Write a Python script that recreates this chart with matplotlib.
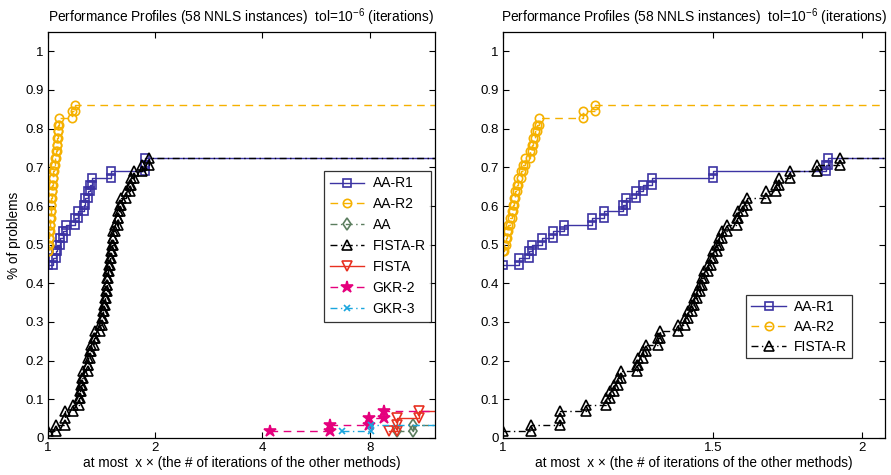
import numpy as np
import matplotlib
matplotlib.use('Agg')
import matplotlib.pyplot as plt
from matplotlib.ticker import FixedLocator, FixedFormatter, NullLocator

plt.rcParams['font.family'] = ['Liberation Sans', 'DejaVu Sans']
plt.rcParams['mathtext.fontset'] = 'custom'
plt.rcParams['mathtext.rm'] = 'Liberation Sans'
plt.rcParams['font.size'] = 9

N_PROBLEMS = 58

# performance ratios (one value per solved problem)
aa_r1 = [1.0] * 26 + [1.032, 1.052, 1.057, 1.078, 1.102, 1.124, 1.188, 1.216,
                      1.261, 1.267, 1.292, 1.311, 1.332, 1.499, 1.866, 1.874]
aa_r2 = [1.0] * 28 + [1.0025, 1.006, 1.007, 1.010, 1.0136, 1.017, 1.019, 1.021,
                      1.023, 1.027, 1.030, 1.035, 1.040, 1.043, 1.053, 1.057,
                      1.060, 1.064, 1.067, 1.071, 1.168, 1.194]
fista_r = [1.0, 1.055, 1.116, 1.116, 1.173, 1.220, 1.229, 1.240, 1.248, 1.256,
           1.295, 1.297, 1.310, 1.318, 1.349, 1.354, 1.402, 1.420, 1.430, 1.440,
           1.447, 1.454, 1.462, 1.468, 1.475, 1.486, 1.493, 1.500, 1.512, 1.518,
           1.525, 1.540, 1.570, 1.575, 1.590, 1.600, 1.660, 1.695, 1.705, 1.740,
           1.833, 1.917]
aa = [9.57, 10.6]
fista = [9.07, 9.57, 9.57, 11.0]
gkr2 = [4.21, 6.19, 7.98, 8.78]
gkr3 = [6.70, 8.05]

left_ticks = [1, 2, 4, 8]
right_ticks = [1, 1.5, 2]
yticks = [0, 0.1, 0.2, 0.3, 0.4, 0.5, 0.6, 0.7, 0.8, 0.9, 1]

title = r'Performance Profiles (58 NNLS instances)  tol=10$^{-6}$ (iterations)'
xlab = 'at most  x \u00d7 (the # of iterations of the other methods)'

DASH = (0, (5.5, 4))
DASHDOT = (0, (5, 2.5, 1, 2.5))

styles = {
    'AA-R1': dict(color='#3c33a3', ls='-', marker='s', ms=5.5, fill=False),
    'AA-R2': dict(color='#f5b100', ls=DASH, marker='o', ms=6, fill=False),
    'AA': dict(color='#5b7d5e', ls=DASHDOT, marker='d', ms=6, fill=False),
    'FISTA-R': dict(color='black', ls=DASHDOT, marker='^', ms=6.5, fill=False),
    'FISTA': dict(color='#e83020', ls='-', marker='v', ms=6.5, fill=False),
    'GKR-2': dict(color='#e5007d', ls=DASH, marker='*', ms=9, fill=True),
    'GKR-3': dict(color='#1aa6de', ls=DASHDOT, marker='x', ms=4.5, fill=False),
}


def profile(ratios, xmax):
    r = np.sort(np.asarray(ratios, float))
    u, c = np.unique(r, return_counts=True)
    cum = np.cumsum(c)
    xs, ys = [u[0]], [cum[0] / N_PROBLEMS]
    for j in range(1, len(u)):
        for lev in range(cum[j - 1], cum[j] + 1):
            xs.append(u[j])
            ys.append(lev / N_PROBLEMS)
    xs.append(xmax)
    ys.append(cum[-1] / N_PROBLEMS)
    return xs, ys


def draw(ax, series, xmax, ticks):
    for name, vals in series:
        st = styles[name]
        xs, ys = profile(vals, xmax)
        ax.plot(xs, ys, ls=st['ls'], color=st['color'], lw=1.0,
                marker=st['marker'], ms=st['ms'],
                mfc=st['color'] if st['fill'] else 'none', mec=st['color'],
                mew=1.2, markevery=list(range(len(xs) - 1)), label=name)
    ax.set_xscale('log', base=2)
    ax.set_xlim(1, xmax)
    ax.set_ylim(0, 1.05)
    ax.xaxis.set_major_locator(FixedLocator(ticks))
    ax.xaxis.set_major_formatter(FixedFormatter([('%g' % t) for t in ticks]))
    ax.xaxis.set_minor_locator(NullLocator())
    ax.set_yticks(yticks)
    ax.set_yticklabels([('%g' % t) for t in yticks])
    ax.tick_params(direction='in', top=True, right=True, length=4, width=0.8,
                   labelsize=9.5, pad=3)
    for s in ax.spines.values():
        s.set_linewidth(0.9)
    ax.set_title(title, fontsize=9.9, pad=7)
    ax.set_xlabel(xlab, fontsize=9.8, labelpad=1)


fig = plt.figure(figsize=(8.91, 4.75), dpi=100)
ax1 = fig.add_axes([48 / 891, 1 - 438 / 475, 387 / 891, 406 / 475])
ax2 = fig.add_axes([503 / 891, 1 - 438 / 475, 382 / 891, 406 / 475])

draw(ax1, [('AA-R1', aa_r1), ('AA-R2', aa_r2), ('AA', aa), ('FISTA-R', fista_r),
           ('FISTA', fista), ('GKR-2', gkr2), ('GKR-3', gkr3)], 12.2, left_ticks)
ax1.set_ylabel('% of problems', fontsize=9.8, labelpad=3)
leg1 = ax1.legend(loc='upper right', bbox_to_anchor=(0.99, 0.658), fontsize=10,
                  numpoints=1, handlelength=2.5, labelspacing=0.5,
                  handletextpad=0.6, fancybox=False, edgecolor='black',
                  borderpad=0.4, borderaxespad=0)
leg1.get_frame().set_linewidth(0.9)

draw(ax2, [('AA-R1', aa_r1), ('AA-R2', aa_r2), ('FISTA-R', fista_r)], 2.09,
     right_ticks)
leg2 = ax2.legend(loc='upper right', bbox_to_anchor=(0.914, 0.352), fontsize=10,
                  numpoints=1, handlelength=2.5, labelspacing=0.42,
                  handletextpad=0.6, fancybox=False, edgecolor='black',
                  borderpad=0.35, borderaxespad=0)
leg2.get_frame().set_linewidth(0.9)

fig.savefig('out.png', dpi=100)
